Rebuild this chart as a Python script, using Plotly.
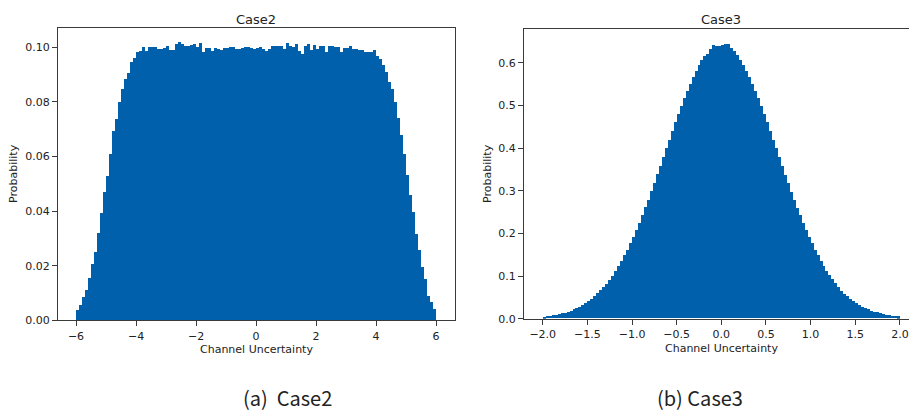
import numpy as np
import plotly.graph_objects as go

# ---------------- data ----------------
case2_bin_start = -6.0
case2_bin_width = 0.1
case2_prob = [
    0.0040, 0.0060, 0.0088, 0.0115, 0.0157, 0.0208, 0.0252, 0.0322, 0.0396, 0.0472,
    0.0532, 0.0610, 0.0694, 0.0740, 0.0802, 0.0850, 0.0886, 0.0906, 0.0946, 0.0962,
    0.0985, 0.0989, 0.1001, 0.0989, 0.1001, 0.1001, 0.1001, 0.0995, 0.0995, 0.0998,
    0.1005, 0.0993, 0.0993, 0.1013, 0.1019, 0.1013, 0.1007, 0.1007, 0.1010, 0.1013,
    0.1001, 0.1017, 0.0986, 0.0998, 0.0998, 0.0989, 0.0998, 0.0995, 0.0993, 0.0998,
    0.0998, 0.1001, 0.1001, 0.0995, 0.0995, 0.0998, 0.1001, 0.1001, 0.0998, 0.0995,
    0.0998, 0.1001, 0.0995, 0.0989, 0.0995, 0.1007, 0.1007, 0.1005, 0.1007, 0.0995,
    0.1017, 0.1007, 0.1001, 0.1013, 0.0989, 0.0977, 0.1007, 0.1013, 0.0993, 0.1010,
    0.0995, 0.1005, 0.1005, 0.0986, 0.1007, 0.1007, 0.1001, 0.1001, 0.0983, 0.0998,
    0.0998, 0.1007, 0.0995, 0.0995, 0.0993, 0.0990, 0.0986, 0.0986, 0.0986, 0.0990,
    0.0968, 0.0958, 0.0938, 0.0910, 0.0876, 0.0850, 0.0802, 0.0742, 0.0680, 0.0612,
    0.0535, 0.0460, 0.0400, 0.0318, 0.0261, 0.0196, 0.0154, 0.0090, 0.0070, 0.0042,
]

case3_bin_start = -2.0
case3_bin_width = 4.0 / 120
case3_prob = [
    0.0042, 0.0052, 0.0062, 0.0073, 0.0086, 0.0100, 0.0117, 0.0136, 0.0157, 0.0180,
    0.0208, 0.0238, 0.0272, 0.0310, 0.0355, 0.0405, 0.0460, 0.0518, 0.0583, 0.0653,
    0.0730, 0.0815, 0.0905, 0.1003, 0.1110, 0.1222, 0.1345, 0.1475, 0.1612, 0.1757,
    0.1912, 0.2072, 0.2240, 0.2415, 0.2597, 0.2784, 0.2975, 0.3172, 0.3372, 0.3575,
    0.3780, 0.3985, 0.4190, 0.4392, 0.4590, 0.4785, 0.4975, 0.5158, 0.5335, 0.5500,
    0.5655, 0.5800, 0.5930, 0.6050, 0.6150, 0.6200, 0.6300, 0.6410, 0.6380, 0.6390,
    0.6400, 0.6430, 0.6420, 0.6330, 0.6260, 0.6160, 0.6060, 0.5940, 0.5800, 0.5650,
    0.5500, 0.5330, 0.5160, 0.4970, 0.4780, 0.4590, 0.4390, 0.4180, 0.3980, 0.3770,
    0.3570, 0.3370, 0.3170, 0.2970, 0.2780, 0.2590, 0.2410, 0.2240, 0.2070, 0.1910,
    0.1760, 0.1610, 0.1480, 0.1350, 0.1230, 0.1110, 0.1010, 0.0910, 0.0820, 0.0730,
    0.0650, 0.0580, 0.0520, 0.0460, 0.0400, 0.0355, 0.0310, 0.0275, 0.0240, 0.0210,
    0.0182, 0.0158, 0.0137, 0.0118, 0.0101, 0.0087, 0.0074, 0.0063, 0.0053, 0.0045,
]

case2_xticks = [-6, -4, -2, 0, 2, 4, 6]
case2_xticktext = ["\u22126", "\u22124", "\u22122", "0", "2", "4", "6"]
case2_yticks = [0.0, 0.02, 0.04, 0.06, 0.08, 0.10]
case2_yticktext = ["0.00", "0.02", "0.04", "0.06", "0.08", "0.10"]

case3_xticks = [-2.0, -1.5, -1.0, -0.5, 0.0, 0.5, 1.0, 1.5, 2.0]
case3_xticktext = ["\u22122.0", "\u22121.5", "\u22121.0", "\u22120.5", "0.0", "0.5", "1.0", "1.5", "2.0"]
case3_yticks = [0.0, 0.1, 0.2, 0.3, 0.4, 0.5, 0.6]
case3_yticktext = ["0.0", "0.1", "0.2", "0.3", "0.4", "0.5", "0.6"]

titles = ["Case2", "Case3"]
captions = ["(a)  Case2", "(b) Case3"]
xlabel = "Channel Uncertainty"
ylabel = "Probability"

# ---------------- figure ----------------
W, H = 909, 412
BAR = "#0060AC"
AX = "#3a3a3a"
TXT = "#222222"
FONT = "DejaVu Sans"

def px(x):
    return x / W

def py(y):
    return 1 - y / H

c2_centers = case2_bin_start + case2_bin_width * (np.arange(len(case2_prob)) + 0.5)
c3_centers = case3_bin_start + case3_bin_width * (np.arange(len(case3_prob)) + 0.5)

fig = go.Figure()
fig.add_trace(go.Bar(x=c2_centers, y=case2_prob, width=case2_bin_width,
                     marker=dict(color=BAR, line=dict(width=0)),
                     xaxis="x", yaxis="y", showlegend=False, hoverinfo="skip"))
fig.add_trace(go.Bar(x=c3_centers, y=case3_prob, width=case3_bin_width,
                     marker=dict(color=BAR, line=dict(width=0)),
                     xaxis="x2", yaxis="y2", showlegend=False, hoverinfo="skip"))

axis_common = dict(showgrid=False, zeroline=False, showline=True, linecolor=AX,
                   linewidth=1, ticks="outside", ticklen=5, tickwidth=1,
                   tickcolor=AX, tickfont=dict(family=FONT, size=11, color=TXT))

fig.update_layout(
    width=W, height=H,
    margin=dict(l=0, r=0, t=0, b=0),
    paper_bgcolor="white", plot_bgcolor="white",
    bargap=0,
    xaxis=dict(domain=[px(58), px(455)], range=[-6.6, 6.63], anchor="y",
               tickvals=case2_xticks, ticktext=case2_xticktext, mirror=True, **axis_common),
    yaxis=dict(domain=[py(326), py(28)], range=[0, 0.1072], anchor="x",
               tickvals=case2_yticks, ticktext=case2_yticktext, mirror=True, **axis_common),
    xaxis2=dict(domain=[px(524), 1.0], range=[-2.21, 2.102], anchor="y2",
                tickvals=case3_xticks, ticktext=case3_xticktext, mirror=True, **axis_common),
    yaxis2=dict(domain=[py(324.3), py(30)], range=[0, 0.678], anchor="x2",
                tickvals=case3_yticks, ticktext=case3_yticktext, mirror=False, **axis_common),
)

ann = []
# titles
ann.append(dict(x=px(256), y=py(20), text=titles[0], font=dict(family=FONT, size=13, color=TXT)))
ann.append(dict(x=px(721), y=py(20), text=titles[1], font=dict(family=FONT, size=13, color=TXT)))
# x labels
ann.append(dict(x=px(256), y=py(356), text=xlabel, font=dict(family=FONT, size=11, color=TXT)))
ann.append(dict(x=px(721), y=py(355), text=xlabel, font=dict(family=FONT, size=11, color=TXT)))
# y labels
ann.append(dict(x=px(14), y=py(177), text=ylabel, textangle=-90, font=dict(family=FONT, size=11, color=TXT)))
ann.append(dict(x=px(488), y=py(177), text=ylabel, textangle=-90, font=dict(family=FONT, size=11, color=TXT)))
# captions
ann.append(dict(x=px(287.5), y=py(404.5), text=captions[0], font=dict(family="Noto Sans CJK KR", size=20, color=TXT)))
ann.append(dict(x=px(700), y=py(404.5), text=captions[1], font=dict(family="Noto Sans CJK KR", size=20, color=TXT)))

for a in ann:
    a.update(xref="paper", yref="paper", showarrow=False, xanchor="center", yanchor="middle")
fig.update_layout(annotations=ann)

fig.write_html("out.html", config={"displayModeBar": False},
               post_script="document.body.style.margin='0';document.body.style.overflow='hidden';")
